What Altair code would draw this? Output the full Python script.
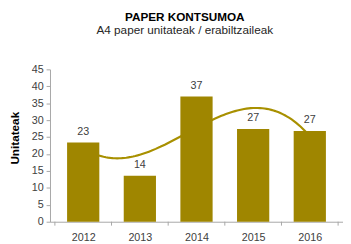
import altair as alt
import pandas as pd

years = [2012, 2013, 2014, 2015, 2016]
values = [23.4, 13.6, 37.0, 27.4, 26.8]
labels = ["23", "14", "37", "27", "27"]
boundaries = [2011.5, 2012.5, 2013.5, 2014.5, 2015.5, 2016.5]
y_ticks = [0, 5, 10, 15, 20, 25, 30, 35, 40, 45]

df = pd.DataFrame({"year": years, "value": values, "label": labels})
bdf = pd.DataFrame({"year": boundaries, "value": [0] * len(boundaries)})

OLIVE = "#9F8600"
LINE = "#A89000"
AXIS = "#A6A6A6"
TXT = "#404040"
FONT = "Liberation Sans"
W = 300
H = 156

xscale = alt.Scale(domain=[2011.5, 2016.5], nice=False, zero=False)
yscale = alt.Scale(domain=[0, 45], nice=False)

xaxis = alt.Axis(values=years, format="d", grid=False, ticks=False, domainColor=AXIS,
                 labelFontSize=11, labelColor=TXT, labelFont=FONT, labelPadding=10,
                 labelOverlap=False, title=None)
yaxis = alt.Axis(values=y_ticks, grid=False, domainColor=AXIS, tickColor=AXIS, tickSize=4,
                 labelFontSize=11, labelColor=TXT, labelFont=FONT, labelPadding=3,
                 labelOverlap=False,
                 title="Unitateak", titleFont=FONT, titleFontSize=12, titleFontWeight="bold",
                 titleColor="#000000", titlePadding=10, titleY=70)

X = alt.X("year:Q", scale=xscale, axis=xaxis)
Y = alt.Y("value:Q", scale=yscale, axis=yaxis)

base = alt.Chart(df)

line = base.transform_regression("year", "value", method="poly", order=3).mark_line(
    color=LINE, strokeWidth=2.2
).encode(x=X, y=Y)

bars = base.mark_bar(size=33, color=OLIVE).encode(x=X, y=Y)

text = base.mark_text(dy=-6, baseline="bottom", font=FONT, fontSize=11, color=TXT).encode(
    x=X, y=Y, text="label:N"
)

ticks = alt.Chart(bdf).mark_rule(color=AXIS).encode(
    x=X,
    y=alt.value(H),
    y2=alt.value(H + 4),
)

chart = alt.layer(line, bars, text, ticks).properties(
    width=W,
    height=H,
    title=alt.Title(
        "PAPER KONTSUMOA",
        subtitle="A4 paper unitateak / erabiltzaileak",
        anchor="middle",
        font=FONT,
        fontSize=12,
        fontWeight="bold",
        color="#000000",
        subtitleFont=FONT,
        subtitleFontSize=12,
        subtitleColor="#262626",
        subtitlePadding=2,
        offset=27,
        dx=-12,
    ),
    padding={"left": 0, "top": 0, "right": 0, "bottom": 0},
).configure_view(stroke=None)

chart.save("out.html", embed_options={"renderer": "svg", "actions": False})
